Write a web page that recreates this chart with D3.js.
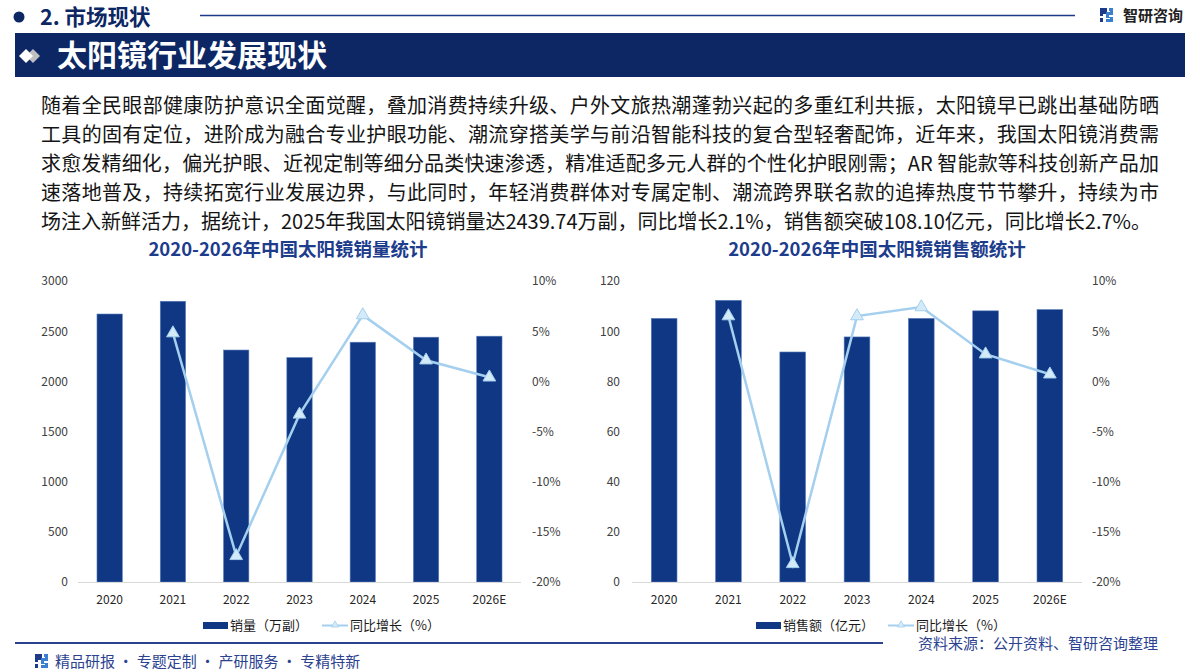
<!DOCTYPE html>
<html>
<head>
<meta charset="utf-8">
<script src="https://cdn.jsdelivr.net/npm/d3@7"></script>
<style>
  body { margin: 0; background: #fff; }
  #page { position: relative; width: 1200px; height: 672px; overflow: hidden;
          font-family: "Noto Sans CJK SC", "Noto Sans", sans-serif; }
  #page svg { position: absolute; left: 0; top: 0; }
  #para { position: absolute; left: 41px; top: 90px; width: 1118px;
          font-size: 20px; line-height: 29px; color: #141414; }
  #para div { white-space: nowrap; text-align: justify; text-align-last: justify; }
  #para div.last { text-align: left; text-align-last: left; }
</style>
</head>
<body>
<div id="page">
  <svg id="chart" width="1200" height="672"></svg>
  <div id="para"></div>
</div>
<script>
// categories and series
var years = ["2020", "2021", "2022", "2023", "2024", "2025", "2026E"];
var salesVolume = [2671, 2798, 2312, 2237, 2390, 2439.74, 2450];   // 万副
var volumeGrowth = [null, 4.8, -17.4, -3.3, 6.6, 2.1, 0.4];        // %
var salesValue = [105.1, 112.3, 91.7, 97.7, 105.1, 108.10, 108.6]; // 亿元
var valueGrowth = [null, 6.5, -18.2, 6.5, 7.4, 2.7, 0.7];          // %

var volumeTicks = [0, 500, 1000, 1500, 2000, 2500, 3000];
var valueTicks = [0, 20, 40, 60, 80, 100, 120];
var growthTicks = [-20, -15, -10, -5, 0, 5, 10];

var paragraph = [
    "随着全民眼部健康防护意识全面觉醒，叠加消费持续升级、户外文旅热潮蓬勃兴起的多重红利共振，太阳镜早已跳出基础防晒",
    "工具的固有定位，进阶成为融合专业护眼功能、潮流穿搭美学与前沿智能科技的复合型轻奢配饰，近年来，我国太阳镜消费需",
    "求愈发精细化，偏光护眼、近视定制等细分品类快速渗透，精准适配多元人群的个性化护眼刚需；AR 智能款等科技创新产品加",
    "速落地普及，持续拓宽行业发展边界，与此同时，年轻消费群体对专属定制、潮流跨界联名款的追捧热度节节攀升，持续为市",
    "场注入新鲜活力，据统计，2025年我国太阳镜销量达2439.74万副，同比增长2.1%，销售额突破108.10亿元，同比增长2.7%。"
];

var navy = "#0c2764";
var barColor = "#0f3783";
var lineColor = "#a4cfee";
var markerFill = "#d3eaf9";
var textNavy = "#2b4290";

var svg = d3.select("#chart");

//Header
svg.append("circle").attr("cx", 19).attr("cy", 17).attr("r", 5.5).attr("fill", navy);
svg.append("text").attr("x", 40).attr("y", 24.5)
    .attr("font-size", 21.5).attr("font-weight", "bold").attr("fill", navy)
    .text("2. 市场现状");
svg.append("line").attr("x1", 200).attr("x2", 1075).attr("y1", 15.5).attr("y2", 15.5)
    .attr("stroke", "#1f3a8a").attr("stroke-width", 1.5);

function drawLogo(x, y, s) {
    var g = svg.append("g").attr("transform", "translate(" + x + "," + y + ") scale(" + s + ")");
    g.append("path").attr("d", "M0,0H7V6H3V8H0Z M0,10H3V14H0Z").attr("fill", "#1f3a8a");
    g.append("path").attr("d", "M9,0H13V7H9V9H13V14H6V11H10V10H6V4H10V3H9Z").attr("fill", "#3a7fd0");
}
drawLogo(1100, 8, 1);
svg.append("text").attr("x", 1123).attr("y", 21)
    .attr("font-size", 15).attr("font-weight", "bold").attr("fill", "#222")
    .text("智研咨询");

//Banner
svg.append("rect").attr("x", 15).attr("y", 33).attr("width", 1170).attr("height", 44).attr("fill", navy);
svg.append("path").attr("d", "M33,49 L40,56 L33,63 L26,56Z").attr("fill", "#bfbfbf");
svg.append("path").attr("d", "M26,49 L33,56 L26,63 L19,56Z").attr("fill", "#fff");
svg.append("text").attr("x", 57).attr("y", 66)
    .attr("font-size", 30).attr("font-weight", "bold").attr("fill", "#fff")
    .text("太阳镜行业发展现状");

//Paragraph
d3.select("#para").selectAll("div")
    .data(paragraph)
    .enter()
    .append("div")
    .attr("class", function(d, i) { return i === paragraph.length - 1 ? "last" : null; })
    .text(function(d) { return d; });

function drawChart(opt) {
    var yTop = 281, yBot = 582;

    var x = d3.scaleBand()
        .domain(years)
        .range([opt.x0, opt.x1])
        .paddingInner(0.6)
        .paddingOuter(0.3);

    var y = d3.scaleLinear()
        .domain([0, d3.max(opt.barTicks)])
        .range([yBot, yTop]);

    var y2 = d3.scaleLinear()
        .domain([-20, 10])
        .range([yBot, yTop]);

    var g = svg.append("g");

    g.append("text")
        .attr("x", opt.titleX).attr("y", 256)
        .attr("text-anchor", "middle")
        .attr("font-size", 18.5).attr("font-weight", "bold").attr("fill", "#1d3c8c")
        .text(opt.title);

    // left axis labels
    var left = g.append("g")
        .attr("transform", "translate(" + opt.x0 + ",0)")
        .call(d3.axisLeft(y).tickValues(opt.barTicks).tickSize(0).tickPadding(opt.padL)
            .tickFormat(d3.format("d")));
    left.select(".domain").remove();
    left.selectAll("text").attr("font-size", 12).attr("fill", "#404040")
        .attr("font-family", "'Noto Sans CJK SC', sans-serif");

    // right axis labels
    var right = g.append("g")
        .attr("transform", "translate(" + opt.x1 + ",0)")
        .call(d3.axisRight(y2).tickValues(growthTicks).tickSize(0).tickPadding(opt.padR)
            .tickFormat(function(d) { return d + "%"; }));
    right.select(".domain").remove();
    right.selectAll("text").attr("font-size", 12).attr("fill", "#404040")
        .attr("font-family", "'Noto Sans CJK SC', sans-serif");

    // bars
    g.append("g").selectAll("rect")
        .data(opt.bars)
        .enter()
        .append("rect")
        .attr("x", function(d, i) { return x(years[i]); })
        .attr("y", function(d) { return y(d); })
        .attr("width", x.bandwidth())
        .attr("height", function(d) { return yBot - y(d); })
        .attr("fill", barColor)
        .attr("stroke", "#5b7dbd")
        .attr("stroke-width", 0.6);

    // baseline
    g.append("line")
        .attr("x1", opt.x0).attr("x2", opt.x1)
        .attr("y1", yBot + 0.5).attr("y2", yBot + 0.5)
        .attr("stroke", "#d9d9d9").attr("stroke-width", 1);

    // x labels
    var bottom = g.append("g")
        .attr("transform", "translate(0," + yBot + ")")
        .call(d3.axisBottom(x).tickSize(0).tickPadding(13));
    bottom.select(".domain").remove();
    bottom.selectAll("text").attr("font-size", 12).attr("fill", "#262626")
        .attr("font-family", "'Noto Sans CJK SC', sans-serif");

    // growth line
    var pts = opt.growth.map(function(d, i) { return {cat: years[i], v: d}; })
        .filter(function(d) { return d.v !== null; });

    var line = d3.line()
        .x(function(d) { return x(d.cat) + x.bandwidth() / 2; })
        .y(function(d) { return y2(d.v); });

    g.append("path")
        .datum(pts)
        .attr("d", line)
        .attr("fill", "none")
        .attr("stroke", lineColor)
        .attr("stroke-width", 2.5);

    g.append("g").selectAll("path")
        .data(pts)
        .enter()
        .append("path")
        .attr("d", d3.symbol().type(d3.symbolTriangle).size(70))
        .attr("transform", function(d) {
            return "translate(" + (x(d.cat) + x.bandwidth() / 2) + "," + y2(d.v) + ")";
        })
        .attr("fill", markerFill)
        .attr("stroke", lineColor)
        .attr("stroke-width", 1);

    // legend
    var lg = g.append("g").attr("font-size", 13).attr("fill", "#1a1a1a");
    lg.append("rect").attr("x", opt.legX).attr("y", 622).attr("width", 25).attr("height", 7).attr("fill", barColor);
    lg.append("text").attr("x", opt.legX + 27).attr("y", 630).text(opt.barName);
    lg.append("line").attr("x1", opt.legX2).attr("x2", opt.legX2 + 26)
        .attr("y1", 625.5).attr("y2", 625.5).attr("stroke", lineColor).attr("stroke-width", 2);
    lg.append("path").attr("d", d3.symbol().type(d3.symbolTriangle).size(22))
        .attr("transform", "translate(" + (opt.legX2 + 13) + ",625)")
        .attr("fill", markerFill).attr("stroke", lineColor).attr("stroke-width", 0.8);
    lg.append("text").attr("x", opt.legX2 + 28).attr("y", 630).text("同比增长（%）");
}

drawChart({
    x0: 78, x1: 521, padL: 10, padR: 11,
    bars: salesVolume, growth: volumeGrowth, barTicks: volumeTicks,
    title: "2020-2026年中国太阳镜销量统计", titleX: 288,
    barName: "销量（万副）", legX: 203, legX2: 322
});

drawChart({
    x0: 632, x1: 1082, padL: 12, padR: 10,
    bars: salesValue, growth: valueGrowth, barTicks: valueTicks,
    title: "2020-2026年中国太阳镜销售额统计", titleX: 877,
    barName: "销售额（亿元）", legX: 756, legX2: 888
});

//Footer
svg.append("line").attr("x1", 15).attr("x2", 883).attr("y1", 643).attr("y2", 643)
    .attr("stroke", textNavy).attr("stroke-width", 2);
svg.append("text").attr("x", 918).attr("y", 649)
    .attr("font-size", 15).attr("fill", textNavy)
    .text("资料来源：公开资料、智研咨询整理");
drawLogo(35, 654, 1);
svg.append("text").attr("x", 55).attr("y", 667)
    .attr("font-size", 15).attr("fill", textNavy)
    .text("精品研报 · 专题定制 · 产研服务 · 专精特新");
</script>
</body>
</html>
